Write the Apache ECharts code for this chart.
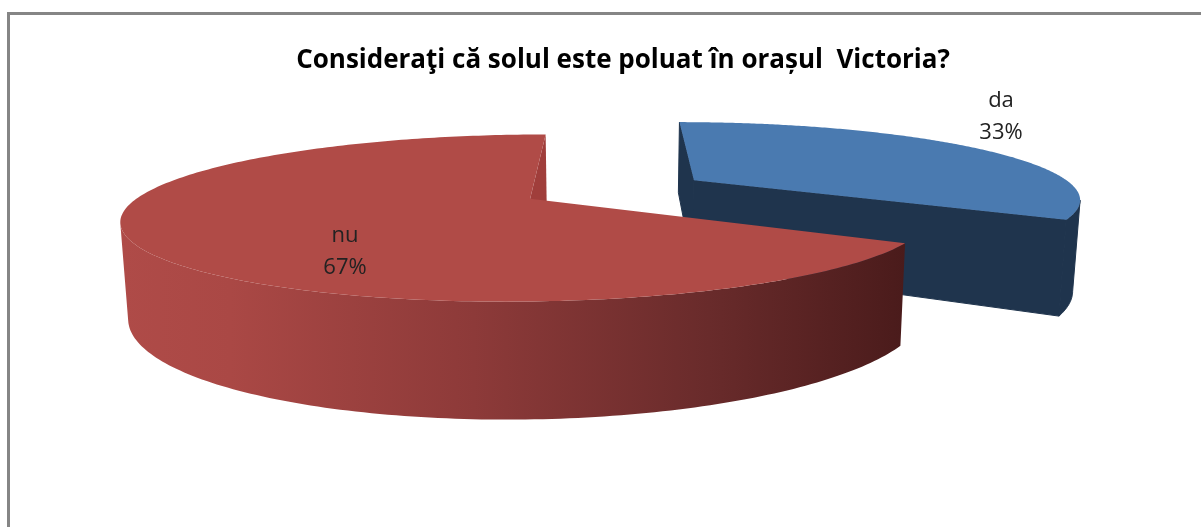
<!DOCTYPE html>
<html>
<head>
<meta charset="utf-8">
<style>html,body{margin:0;padding:0;background:#fff}#c{width:1201px;height:527px}</style>
<script src="https://cdn.jsdelivr.net/npm/echarts@6/dist/echarts.min.js"></script>
</head>
<body>
<div id="c"></div>
<script>
// --- data ---
const chartTitle = 'Consideraţi că solul este poluat în orașul  Victoria?';
const categories = ['da', 'nu'];
const values = [33.3, 66.7];

// --- styles / layout ---
const topColors = ['#4a7ab0', '#b04b47'];
const cutColors = ['#1f344d', '#a03e3b'];
const labelAnchors = [[1001, 116.5], [345, 252]];
const VP_X = 613, VP_Y = -144;         // vanishing point of the perspective view
const H_TOP = 343, H_BOTTOM = 433.8;   // plane heights below the horizon
const BOTTOM_SCALE = 0.984;
const R = 394, K = 0.231;              // radius in x-units and in depth-units
const C_X = 1.35, C_W = 1.0293, EXPLODE = 97.4;
const STEPS = 240;

const total = values.reduce((a, b) => a + b, 0);
const rad = d => d * Math.PI / 180;
const toY = w => (w - 1) * R / K;
function project(X, w, top) {
  return [VP_X + X * (top ? 1 : BOTTOM_SCALE) / w, VP_Y + (top ? H_TOP : H_BOTTOM) / w];
}
function wallVisible(c, th, midTh) {
  const d = [Math.sin(th), Math.cos(th)];
  const cam = [0 - c.X, toY(0) - toY(c.w)];
  const m = [Math.sin(midTh), Math.cos(midTh)];
  const cross = (a, b) => a[0] * b[1] - a[1] * b[0];
  return cross(d, cam) * cross(d, m) < 0;
}
function rimFacesCamera(c, th) {
  const n = [Math.sin(th), Math.cos(th)];
  const p = [c.X + R * n[0], toY(c.w + K * n[1])];
  return n[0] * (0 - p[0]) + n[1] * (toY(0) - p[1]) > 0;
}
function renderSlice(params, api) {
  const i = params.dataIndex;
  const before = values.slice(0, i).reduce((a, b) => a + b, 0);
  const a0 = rad(before / total * 360);
  const a1 = rad((before + api.value(0)) / total * 360);
  const mid = (a0 + a1) / 2;
  const c = {
    X: C_X + EXPLODE * Math.sin(mid),
    w: C_W + EXPLODE * (K / R) * Math.cos(mid)
  };
  const rim = (th, top) => project(c.X + R * Math.sin(th), c.w + K * Math.cos(th), top);
  const apex = top => project(c.X, c.w, top);
  const topArc = [], wallTop = [], wallBottom = [];
  for (let s = 0; s <= STEPS; s++) {
    const th = a0 + (a1 - a0) * s / STEPS;
    topArc.push(rim(th, true));
    if (rimFacesCamera(c, th)) {
      wallTop.push(rim(th, true));
      wallBottom.push(rim(th, false));
    }
  }
  const wallFill = i === 0 ? cutColors[0] : new echarts.graphic.LinearGradient(0, 0, 1, 0, [
    { offset: 0, color: '#af4b48' },
    { offset: 0.14, color: '#aa4845' },
    { offset: 0.45, color: '#8d3a39' },
    { offset: 0.75, color: '#692b2b' },
    { offset: 1, color: '#4a1b1b' }
  ]);
  const seam = i === 0 ? { stroke: cutColors[0], lineWidth: 1 } : {};
  const children = [{
    type: 'polygon',
    shape: { points: wallTop.concat(wallBottom.slice().reverse()) },
    style: Object.assign({ fill: wallFill }, seam)
  }];
  [a0, a1].forEach(th => {
    if (wallVisible(c, th, mid)) {
      children.push({
        type: 'polygon',
        shape: { points: [apex(true), rim(th, true), rim(th, false), apex(false)] },
        style: Object.assign({ fill: cutColors[i] }, seam)
      });
    }
  });
  children.push({
    type: 'polygon', shape: { points: [apex(true)].concat(topArc) }, style: { fill: topColors[i] }
  });
  children.push({
    type: 'text',
    style: {
      x: labelAnchors[i][0], y: labelAnchors[i][1],
      text: categories[i] + '\n' + Math.round(api.value(0) / total * 100) + '%',
      fill: '#222', font: '22px "Open Sans"', lineHeight: 32,
      align: 'center', verticalAlign: 'middle'
    }
  });
  return { type: 'group', children };
}

const chart = echarts.init(document.getElementById('c'), null, { renderer: 'canvas' });
chart.setOption({
  animation: false,
  backgroundColor: '#fff',
  title: {
    text: chartTitle, left: 618, top: 43, textAlign: 'center',
    textStyle: { fontFamily: 'Open Sans', fontSize: 26, fontWeight: 'bold', color: '#000' }
  },
  graphic: [{
    type: 'rect', silent: true,
    shape: { x: 8.5, y: 13.5, width: 1400, height: 800 },
    style: { fill: 'none', stroke: '#858585', lineWidth: 3 }
  }],
  series: [{
    type: 'custom', coordinateSystem: 'none', silent: true,
    renderItem: renderSlice,
    data: values.map((v, i) => ({ name: categories[i], value: [v] }))
  }]
});
</script>
</body>
</html>
